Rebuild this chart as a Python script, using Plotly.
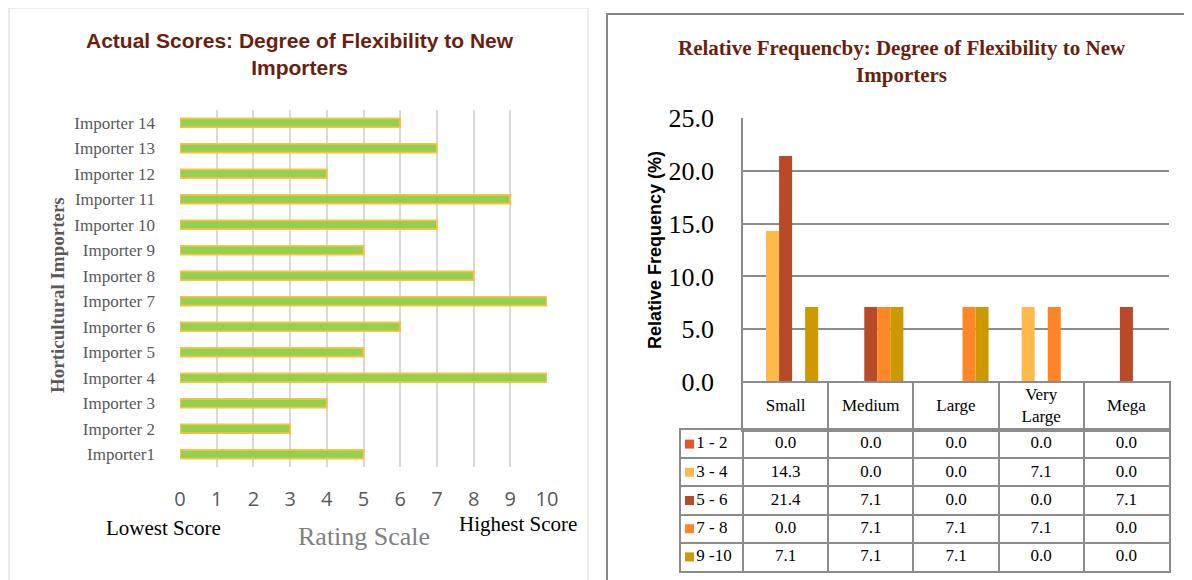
import plotly.graph_objects as go

# ---------------- data ----------------
importers = ["Importer1", "Importer 2", "Importer 3", "Importer 4", "Importer 5",
             "Importer 6", "Importer 7", "Importer 8", "Importer 9", "Importer 10",
             "Importer 11", "Importer 12", "Importer 13", "Importer 14"]
scores = [5, 3, 4, 10, 5, 6, 10, 8, 5, 7, 9, 4, 7, 6]
score_ticks = [0, 1, 2, 3, 4, 5, 6, 7, 8, 9, 10]

sizes = ["Small", "Medium", "Large", "Very Large", "Mega"]
size_headers = ["Small", "Medium", "Large", "Very<br>Large", "Mega"]
range_labels = ["1 - 2", "3 - 4", "5 - 6", "7 - 8", "9 -10"]
freq_1_2 = [0.0, 0.0, 0.0, 0.0, 0.0]
freq_3_4 = [14.3, 0.0, 0.0, 7.1, 0.0]
freq_5_6 = [21.4, 7.1, 0.0, 0.0, 7.1]
freq_7_8 = [0.0, 7.1, 7.1, 7.1, 0.0]
freq_9_10 = [7.1, 7.1, 7.1, 0.0, 0.0]
freq_series = [freq_1_2, freq_3_4, freq_5_6, freq_7_8, freq_9_10]
freq_ticks = [0, 5, 10, 15, 20, 25]

series_colors = ["#E9532A", "#FDB94A", "#B84A27", "#FF8627", "#CC9900"]

# page body has an 8px margin: the figure fills the rest of the 1192x580 window
OFF = 8
W, H = 1192 - OFF, 580 - OFF
def px(x):
    return (x - OFF) / W
def py(y):
    return 1 - (y - OFF) / H

SERIF = "Liberation Serif, Times New Roman, serif"
SANS = "Liberation Sans, Arial, sans-serif"
grid_col = "#8C8C8C"

fig = go.Figure()

# ---------------- left chart ----------------
fig.add_trace(go.Bar(
    x=scores, y=importers, orientation="h", width=0.35,
    marker=dict(color="#92D050", line=dict(color="#FFBF3F", width=1.8)),
    xaxis="x", yaxis="y", showlegend=False, hoverinfo="x+y",
))

# ---------------- right chart ----------------
for name, vals, col in zip(range_labels, freq_series, series_colors):
    fig.add_trace(go.Bar(
        x=sizes, y=vals, name=name, marker=dict(color=col, line=dict(width=0)),
        xaxis="x2", yaxis="y2", showlegend=False,
    ))

# ---------------- data table (header + body on their own axes) ----------------
n_cols = len(sizes)
n_rows = len(range_labels)
LEG = 62 / 85.2  # legend column width in column units
TFONT = dict(family=SERIF, size=17, color="black")

fig.add_trace(go.Scatter(
    x=[j + 0.5 for j in range(n_cols)], y=[0.5] * n_cols, text=size_headers,
    mode="text", textposition="middle center", textfont=TFONT,
    xaxis="x3", yaxis="y3", showlegend=False, hoverinfo="skip",
))

val_x, val_y, val_t = [], [], []
for i, s in enumerate(freq_series):
    for j in range(n_cols):
        val_x.append(j + 0.5)
        val_y.append(i + 0.5)
        val_t.append(f"{s[j]:.1f}")
fig.add_trace(go.Scatter(
    x=val_x, y=val_y, text=val_t, mode="text", textposition="middle center",
    textfont=TFONT, xaxis="x4", yaxis="y4", showlegend=False, hoverinfo="skip",
))
fig.add_trace(go.Scatter(
    x=[-LEG + 0.1] * n_rows, y=[i + 0.5 for i in range(n_rows)],
    mode="markers", marker=dict(symbol="square", size=9, color=series_colors),
    xaxis="x4", yaxis="y4", showlegend=False, hoverinfo="skip",
))
fig.add_trace(go.Scatter(
    x=[-LEG + 0.18] * n_rows, y=[i + 0.5 for i in range(n_rows)], text=range_labels,
    mode="text", textposition="middle right", textfont=TFONT,
    xaxis="x4", yaxis="y4", showlegend=False, hoverinfo="skip",
))

table_axis = dict(showticklabels=False, ticks="", zeroline=False, showgrid=True,
                  gridcolor=grid_col, gridwidth=1.5, showline=True, mirror=True,
                  linecolor=grid_col, linewidth=1.5, fixedrange=True, automargin=False)

fig.update_layout(
    width=W, height=H,
    margin=dict(l=0, r=0, t=0, b=0, autoexpand=False),
    paper_bgcolor="white", plot_bgcolor="white",
    barmode="group", bargap=0.235, bargroupgap=0,
    xaxis=dict(
        domain=[px(180), px(547)], range=[0, 10], tickvals=score_ticks,
        showgrid=True, gridcolor="#D9D9D9", gridwidth=1.5, zeroline=False,
        showline=False, ticks="", ticklabelstandoff=18, automargin=False,
        tickfont=dict(family="Open Sans, Liberation Sans, sans-serif", size=20, color="#595959"),
        fixedrange=True,
    ),
    yaxis=dict(
        domain=[py(467), py(110)], type="category", categoryorder="array",
        categoryarray=importers, showgrid=False, zeroline=False, showline=False,
        ticks="", ticklabelstandoff=24, automargin=False,
        tickfont=dict(family=SERIF, size=17, color="#595959"),
        fixedrange=True,
    ),
    xaxis2=dict(
        domain=[px(743), px(1169)], type="category", categoryorder="array",
        categoryarray=sizes, showticklabels=False, showgrid=False, zeroline=False,
        showline=False, ticks="", anchor="y2", fixedrange=True, automargin=False,
    ),
    yaxis2=dict(
        domain=[py(382), py(118)], range=[0, 25], tickvals=freq_ticks, tickformat=".1f",
        showgrid=True, gridcolor=grid_col, gridwidth=1.5, zeroline=False,
        showline=True, linecolor=grid_col, linewidth=1.5, ticks="",
        ticklabelstandoff=22, anchor="x2", automargin=False,
        tickfont=dict(family=SERIF, size=26, color="black"),
        fixedrange=True,
    ),
    xaxis3=dict(domain=[px(743), px(1169)], range=[0, n_cols],
                tickvals=list(range(n_cols + 1)), anchor="y3", **table_axis),
    yaxis3=dict(domain=[py(430), py(383)], range=[0, 1], anchor="x3",
                **{**table_axis, "showgrid": False}),
    xaxis4=dict(domain=[px(681), px(1169)], range=[-LEG, n_cols],
                tickvals=[-LEG] + list(range(n_cols + 1)), anchor="y4", **table_axis),
    yaxis4=dict(domain=[py(571), py(430)], range=[n_rows, 0],
                tickvals=list(range(n_rows + 1)), anchor="x4", **table_axis),
    shapes=[
        dict(type="rect", xref="paper", yref="paper", x0=px(9), x1=px(588), y0=py(590), y1=py(8),
             line=dict(color="#D9D9D9", width=1), fillcolor="rgba(0,0,0,0)", layer="below"),
        dict(type="rect", xref="paper", yref="paper", x0=px(607), x1=px(1200), y0=py(590), y1=py(14),
             line=dict(color="#868686", width=2), fillcolor="rgba(0,0,0,0)", layer="below"),
    ],
    annotations=[
        dict(text="<b>Actual Scores: Degree of Flexibility to New<br>Importers</b>",
             xref="paper", yref="paper", x=px(300), y=py(54), xanchor="center", yanchor="middle",
             showarrow=False, font=dict(family=SANS, size=21, color="#6B1F0F")),
        dict(text="<b>Relative Frequencby: Degree of Flexibility to New<br>Importers</b>",
             xref="paper", yref="paper", x=px(902), y=py(61), xanchor="center", yanchor="middle",
             showarrow=False, font=dict(family=SERIF, size=21, color="#6B1F0F")),
        dict(text="<b>Horticultural Importers</b>", textangle=-90,
             xref="paper", yref="paper", x=px(57), y=py(295), xanchor="center", yanchor="middle",
             showarrow=False, font=dict(family=SERIF, size=19, color="#595959")),
        dict(text="Lowest Score", xref="paper", yref="paper", x=px(164), y=py(528),
             xanchor="center", yanchor="middle", showarrow=False,
             font=dict(family=SERIF, size=21, color="black")),
        dict(text="Rating Scale", xref="paper", yref="paper", x=px(364), y=py(536),
             xanchor="center", yanchor="middle", showarrow=False,
             font=dict(family=SERIF, size=26, color="#7F7F7F")),
        dict(text="Highest Score", xref="paper", yref="paper", x=px(518), y=py(524),
             xanchor="center", yanchor="middle", showarrow=False,
             font=dict(family=SERIF, size=21, color="black")),
        dict(text="<b>Relative Frequency (%)</b>", textangle=-90,
             xref="paper", yref="paper", x=px(655), y=py(250), xanchor="center", yanchor="middle",
             showarrow=False, font=dict(family=SANS, size=18, color="black")),
    ],
)

fig.write_html("out.html")
